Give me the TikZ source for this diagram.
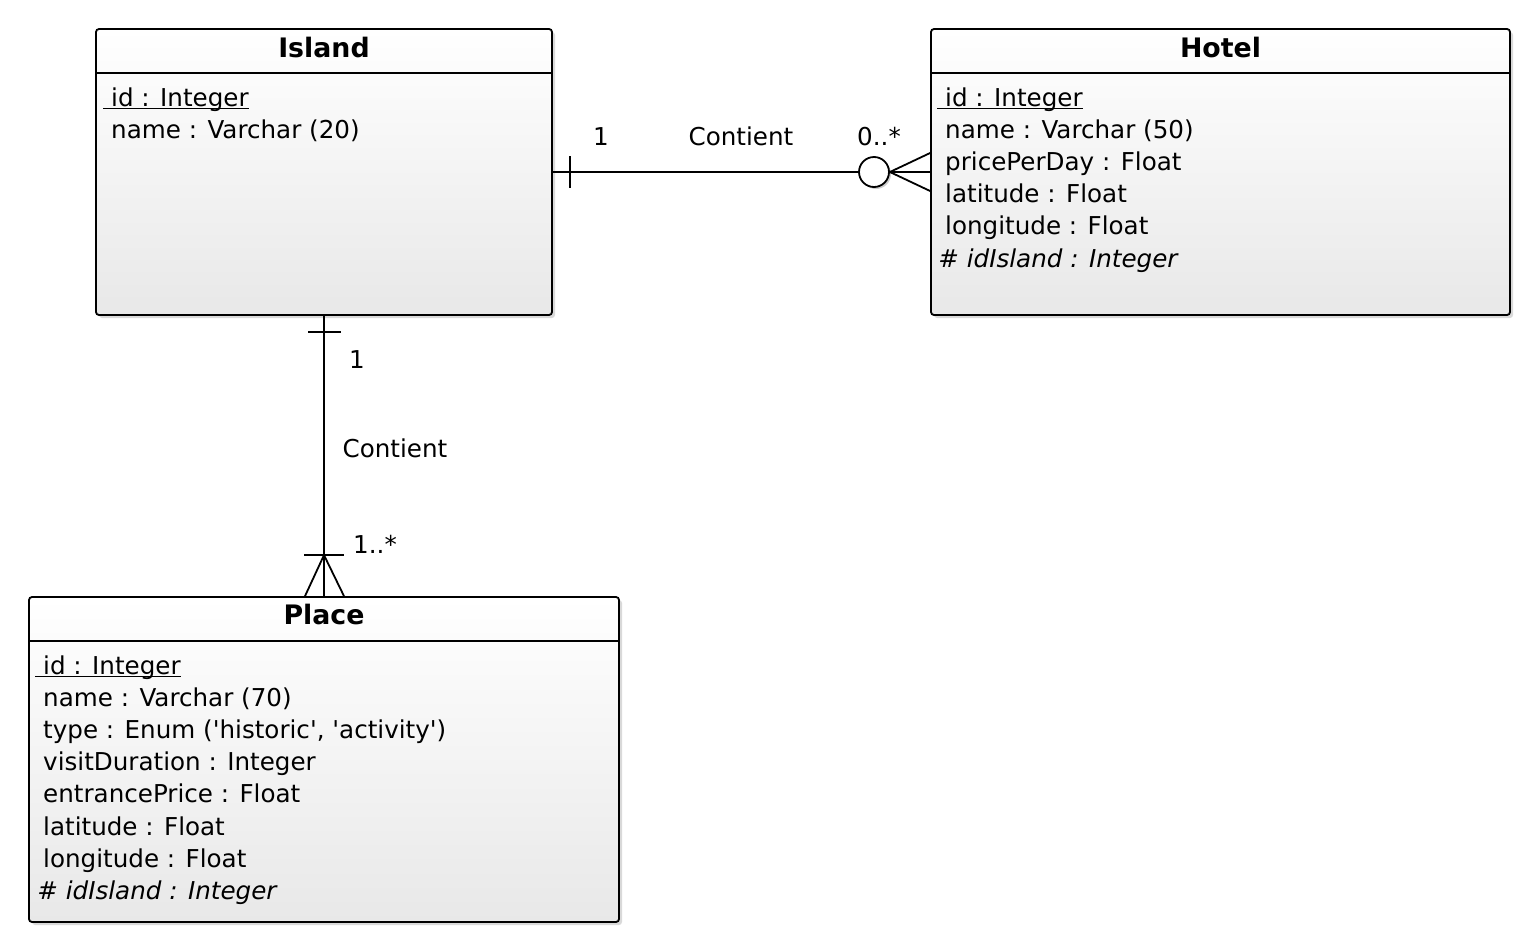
\documentclass[tikz,border=0pt]{standalone}
\usepackage{fontspec}
\setmainfont{DejaVu Sans}
\usetikzlibrary{calc,shadows}

% primary key: underlined close to the baseline
\newcommand{\keyattr}[1]{\setbox0\hbox{#1}\rlap{\rule[-1.7pt]{\wd0}{0.6pt}}\box0}

\tikzset{
  tablebox/.style={draw, line width=0.9pt, rounded corners=1.5pt, inner sep=0pt,
    top color=white, bottom color=black!9,
    drop shadow={shadow xshift=1.5pt, shadow yshift=-1.5pt, opacity=0.15, fill=black}},
  zeromark/.style={draw, circle, line width=0.9pt, fill=white, inner sep=0pt, minimum size=15pt,
    drop shadow={shadow xshift=1pt, shadow yshift=-1pt, opacity=0.2, fill=black}},
  titletext/.style={font=\fontsize{13.4}{15}\selectfont\bfseries, inner sep=0pt, anchor=base},
  attrtext/.style={font=\fontsize{12.3}{15}\selectfont, inner sep=0pt, anchor=base west},
  assoclabel/.style={font=\fontsize{12.3}{15}\selectfont, inner sep=0pt, anchor=base},
  assoc/.style={line width=0.9pt},
}

\begin{document}
\begin{tikzpicture}[x=0.5pt, y=-0.5pt]
\useasboundingbox (0,0) rectangle (1520,932);

%Island
\node[tablebox, minimum width=228pt, minimum height=143pt] (island) at (324,172){};
\draw[assoc] ($(island.north west)+(0,45)$) -- ($(island.north east)+(0,45)$);
\node[titletext] (islandtitle) at (324,57){Island};
\node[attrtext] (islandid) at (103,106){\keyattr{\ id : Integer}};
\node[attrtext] (islandname) at (103,138){\ name : Varchar (20)};

%Hotel
\node[tablebox, minimum width=289.5pt, minimum height=143pt] (hotel) at (1220.5,172){};
\draw[assoc] ($(hotel.north west)+(0,45)$) -- ($(hotel.north east)+(0,45)$);
\node[titletext] (hoteltitle) at (1220.5,57){Hotel};
\node[attrtext] (hotelid) at (937,106){\keyattr{\ id : Integer}};
\node[attrtext] (hotelname) at (937,138){\ name : Varchar (50)};
\node[attrtext] (hotelprice) at (937,170){\ pricePerDay : Float};
\node[attrtext] (hotellat) at (937,202){\ latitude : Float};
\node[attrtext] (hotellon) at (937,234){\ longitude : Float};
\node[attrtext] (hotelfk) at (938,267){\itshape\# idIsland : Integer};

%Place
\node[tablebox, minimum width=295pt, minimum height=162.5pt] (place) at (324,759.5){};
\draw[assoc] ($(place.north west)+(0,45)$) -- ($(place.north east)+(0,45)$);
\node[titletext] (placetitle) at (324,624){Place};
\node[attrtext] (placeid) at (35,674){\keyattr{\ id : Integer}};
\node[attrtext] (placename) at (35,706){\ name : Varchar (70)};
\node[attrtext] (placetype) at (35,738){\ type : Enum (\textquotesingle historic\textquotesingle, \textquotesingle activity\textquotesingle)};
\node[attrtext] (placeduration) at (35,770){\ visitDuration : Integer};
\node[attrtext] (placeprice) at (35,802){\ entrancePrice : Float};
\node[attrtext] (placelat) at (35,835){\ latitude : Float};
\node[attrtext] (placelon) at (35,867){\ longitude : Float};
\node[attrtext] (placefk) at (37,899){\itshape\# idIsland : Integer};

%Island -- Hotel
\node[zeromark] (hotelzero) at (874,172){};
\draw[assoc] (island.east) -- (hotelzero.west);
\draw[assoc] ($(island.east)+(17,-16)$) -- ($(island.east)+(17,16)$);
\draw[assoc] (hotelzero.east) -- (hotel.west);
\draw[assoc] ($(hotel.west)+(0,-19)$) -- (hotelzero.east) -- ($(hotel.west)+(0,19)$);
\node[assoclabel] (hotelone) at (601,145){1};
\node[assoclabel] (hotelrel) at (741,145){Contient};
\node[assoclabel] (hotelmany) at (879,145){0..*};

%Island -- Place
\coordinate (placefoot) at ($(place.north)+(0,-41)$);
\draw[assoc] (island.south) -- (place.north);
\draw[assoc] ($(island.south)+(-16,16)$) -- ($(island.south)+(17,16)$);
\draw[assoc] ($(placefoot)+(-20,0)$) -- ($(placefoot)+(20,0)$);
\draw[assoc] ($(place.north)+(-19,0)$) -- (placefoot) -- ($(place.north)+(20,0)$);
\node[assoclabel] (placeone) at (357,368){1};
\node[assoclabel] (placerel) at (395,457){Contient};
\node[assoclabel] (placemany) at (375,553){1..*};

\end{tikzpicture}
\end{document}
